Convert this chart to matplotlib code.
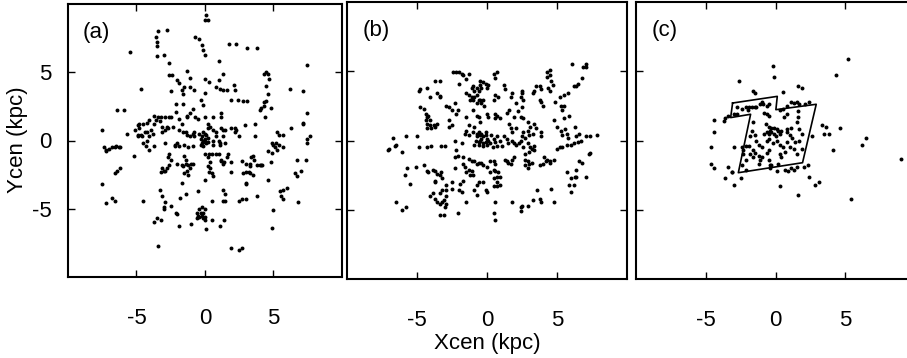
import numpy as np
import matplotlib
matplotlib.use("Agg")
import matplotlib.pyplot as plt

plt.rcParams['font.family'] = ['Liberation Sans', 'DejaVu Sans']
plt.rcParams['axes.unicode_minus'] = False

# ---------------- data (kpc) ----------------
panel_a_points = [
    (0.1, 9.2), (0.0, 8.8), (0.2, 8.8), (-3.4, 8.0), (-2.8, 8.1), (-3.6, 7.6), (-3.5, 7.2),
    (-3.5, 6.9), (-3.5, 6.2), (-3.0, 6.3), (-0.7, 7.6), (-0.4, 7.4), (-0.2, 7.0), (-0.1, 6.6),
    (0.0, 6.3), (1.8, 7.1), (2.3, 7.1), (3.1, 6.8), (3.8, 6.8), (-5.5, 6.5), (-2.6, 5.7),
    (1.0, 5.8), (7.5, 5.5), (-1.3, 5.1), (1.3, 4.9), (-2.6, 4.8), (-2.4, 4.8), (4.3, 4.9),
    (4.5, 5.0), (4.6, 4.9), (-1.1, 4.6), (0.0, 4.5), (0.3, 4.3), (1.0, 4.4), (4.7, 4.5),
    (-2.0, 4.4), (-1.9, 4.2), (2.1, 4.1), (-4.7, 3.8), (-1.5, 3.9), (-1.1, 3.9), (-0.8, 3.7),
    (0.8, 3.9), (1.1, 3.8), (1.3, 3.7), (1.6, 3.7), (2.2, 3.7), (6.2, 3.8), (7.2, 3.6),
    (4.5, 4.0), (-2.5, 3.6), (-1.7, 3.7), (-1.6, 3.4), (0.0, 3.5), (4.6, 3.4), (4.5, 2.9),
    (4.3, 2.8), (1.9, 3.0), (2.4, 3.0), (2.8, 2.9), (3.1, 2.9), (-0.3, 3.0), (-2.1, 2.7),
    (-1.6, 2.7), (-0.1, 2.6), (4.0, 2.2), (4.1, 2.4), (4.3, 2.5), (4.8, 2.4), (-6.4, 2.2),
    (-5.9, 2.2), (-0.9, 2.3), (-1.1, 2.0), (-1.3, 1.8), (-1.3, 1.7), (1.2, 2.0), (1.2, 1.7),
    (-2.1, 2.1), (-3.7, 1.8), (-3.6, 1.5), (-3.4, 1.7), (-3.2, 1.7), (-2.9, 1.7), (-2.6, 1.7),
    (-2.5, 1.7), (-1.9, 1.6), (-1.7, 1.2), (-0.7, 1.7), (-0.5, 1.6), (0.0, 1.7), (0.6, 1.7),
    (4.4, 1.7), (7.5, 2.0), (7.2, 1.3), (7.2, 1.2), (-4.1, 1.5), (-4.2, 1.3), (-4.5, 1.2),
    (-4.8, 1.2), (-4.9, 1.1), (-4.8, 0.9), (-3.7, 1.2), (-3.3, 1.4), (-3.1, 1.0), (-2.8, 1.0),
    (-2.7, 0.9), (-2.3, 1.0), (-7.5, 0.8), (-5.1, 0.8), (-5.7, 0.5), (0.2, 1.2), (0.2, 0.9),
    (0.4, 1.0), (0.6, 0.8), (1.2, 0.9), (1.3, 0.8), (1.5, 0.8), (1.9, 0.9), (2.2, 0.9),
    (2.3, 0.8), (2.2, 0.6), (2.9, 1.1), (3.7, 1.2), (6.3, 0.9), (-4.7, 0.4), (-4.6, 0.3),
    (-4.9, 0.3), (-4.4, 0.6), (-4.2, 0.6), (-3.9, 0.8), (-3.8, 0.5), (-4.1, 0.3), (-3.1, 0.6),
    (-2.9, 0.8), (-1.9, 0.8), (-1.6, 0.6), (-1.4, 0.6), (-1.3, 0.4), (-0.9, 0.5), (-0.8, 0.6),
    (-1.1, 0.3), (-0.8, 0.3), (-0.4, 0.5), (-0.2, 0.3), (0.1, 0.4), (-0.1, 0.6), (0.0, 0.5),
    (0.2, 0.2), (0.8, 0.6), (0.8, 0.3), (0.6, 0.0), (1.3, 0.3), (1.1, -0.2), (2.5, 0.3),
    (3.7, 0.3), (5.3, 0.6), (5.4, 0.4), (5.7, 0.4), (7.7, 0.3), (7.5, 0.1), (7.5, -0.2),
    (-7.4, -0.5), (-7.2, -0.7), (-7.2, -0.8), (-7.0, -0.6), (-6.8, -0.5), (-6.6, -0.5),
    (-6.5, -0.4), (-6.3, -0.5), (-6.2, -0.5), (-4.9, 0.4), (-4.5, -0.2), (-4.2, 0.0),
    (-4.3, -0.4), (-4.1, -0.7), (-3.7, -0.4), (-2.9, -0.2), (-2.2, -0.3), (-2.0, -0.2),
    (-1.9, -0.4), (-2.2, -0.4), (-1.5, -0.3), (-1.2, -0.5), (-0.9, -0.4), (-0.3, 0.1),
    (-0.1, 0.0), (0.0, -0.1), (0.1, -0.2), (-0.2, -0.2), (-0.1, -0.4), (0.0, 0.1), (0.2, -0.1),
    (-0.3, -0.3), (0.6, -0.3), (1.0, 0.0), (1.1, -0.3), (1.5, -0.2), (4.9, -0.2), (5.0, -0.3),
    (5.2, -0.2), (5.4, -0.3), (5.1, -0.5), (4.9, -0.9), (4.6, -0.8), (5.3, -0.7), (5.7, -0.5),
    (0.0, -1.0), (0.3, -1.0), (0.5, -1.0), (0.8, -1.0), (1.0, -1.0), (0.2, -1.2), (-2.6, -1.0),
    (-2.7, -1.2), (-2.5, -1.4), (-2.6, -1.8), (-2.8, -2.0), (-3.0, -2.2), (-2.9, -2.2),
    (-3.1, -2.0), (-3.2, -2.3), (-1.5, -1.1), (-1.4, -1.4), (-1.4, -1.7), (-1.2, -1.8),
    (-1.0, -1.7), (-1.1, -2.0), (-1.3, -2.2), (-1.5, -2.4), (-1.2, -2.5), (-1.6, -1.9),
    (-0.9, -1.7), (-2.0, -1.7), (-1.7, -1.8), (-5.2, -1.1), (0.4, -1.6), (0.2, -1.9),
    (0.4, -2.0), (0.5, -2.4), (0.6, -2.6), (0.3, -2.3), (1.2, -1.5), (1.3, -1.7), (1.2, -1.4),
    (1.4, -1.6), (1.7, -1.0), (1.6, -1.2), (1.9, -1.6), (1.9, -2.3), (2.7, -1.5), (3.0, -1.7),
    (3.3, -1.7), (3.5, -1.1), (3.4, -1.2), (3.6, -1.4), (3.8, -1.8), (4.0, -1.8), (4.1, -1.8),
    (4.2, -1.8), (3.3, -1.9), (2.8, -2.4), (3.0, -2.3), (3.2, -2.3), (3.3, -2.4), (3.5, -2.5),
    (3.0, -3.1), (3.0, -3.2), (4.8, -1.6), (4.6, -2.9), (6.7, -1.4), (7.4, -1.4), (6.6, -2.4),
    (7.0, -2.2), (6.7, -2.6), (-6.6, -2.4), (-6.4, -2.2), (-6.2, -2.0), (-7.5, -3.2),
    (0.0, -2.9), (-1.7, -3.1), (-3.3, -3.6), (-3.1, -4.1), (-2.9, -4.5), (-1.4, -3.9),
    (-0.5, -3.7), (1.3, -3.6), (1.5, -3.9), (1.3, -4.4), (1.5, -4.4), (2.5, -4.4), (2.7, -4.3),
    (3.0, -4.3), (3.8, -4.1), (5.5, -3.7), (5.7, -3.6), (6.0, -3.5), (5.6, -4.1), (5.7, -4.3),
    (6.8, -4.5), (-7.2, -4.6), (-6.8, -4.2), (-6.6, -4.4), (-4.5, -4.4), (-1.8, -4.2),
    (0.5, -4.4), (-3.0, -4.9), (-3.0, -5.0), (-2.5, -4.8), (-2.1, -5.3), (-2.0, -5.4),
    (-3.7, -6.0), (-3.5, -5.7), (-3.2, -5.8), (-1.9, -6.3), (-1.0, -6.1), (-0.4, -5.0),
    (-0.2, -4.9), (0.0, -5.0), (-0.6, -5.3), (-0.3, -5.3), (-0.1, -5.3), (-0.4, -5.6),
    (-0.2, -5.5), (0.0, -5.6), (-0.6, -5.7), (-0.1, -5.7), (0.0, -5.8), (-0.5, -5.5),
    (0.1, -6.5), (0.5, -5.8), (1.1, -6.3), (1.4, -5.8), (5.0, -5.1), (4.9, -6.4), (-3.4, -7.7),
    (1.9, -7.9), (2.5, -8.0), (2.7, -7.9),
]

panel_b_points = [
    (6.1, 5.5), (6.9, 5.3), (7.1, 5.5), (7.1, 5.3), (4.5, 5.1), (4.3, 4.9), (4.5, 4.7), (4.3, 4.6),
    (-2.4, 4.9), (-2.2, 4.9), (-2.0, 4.9), (-1.8, 4.8), (-1.7, 4.7), (-1.3, 4.8), (-1.5, 4.4),
    (0.5, 4.8), (0.7, 4.9), (0.6, 4.5), (6.8, 4.5), (6.5, 4.1), (6.2, 3.9), (5.8, 3.4), (6.4, 3.9),
    (4.6, 4.3), (4.7, 4.0), (4.4, 3.8), (4.5, 3.6), (-3.7, 4.3), (-3.4, 4.3), (-4.3, 3.8),
    (-4.9, 3.6), (-4.8, 3.7), (-2.0, 4.1), (-0.5, 4.3), (-0.3, 4.2), (-0.1, 4.1), (-0.4, 3.8),
    (0.0, 3.8), (0.1, 4.0), (-0.5, 4.0), (-1.1, 3.8), (-1.0, 3.9), (-0.9, 3.6), (-0.7, 3.8),
    (-0.6, 3.6), (1.2, 4.0), (1.3, 3.7), (2.5, 3.6), (2.5, 3.4), (1.8, 3.4), (1.7, 3.1),
    (3.5, 3.9), (3.4, 3.6), (3.3, 3.4), (3.8, 3.9), (3.9, 3.7), (5.5, 3.3), (5.2, 3.1), (4.9, 2.8),
    (-3.6, 3.4), (-3.4, 3.2), (-3.4, 3.1), (-4.1, 3.1), (-1.5, 3.4), (-1.3, 3.3), (-1.1, 3.1),
    (-1.2, 2.9), (-1.0, 2.9), (-0.9, 3.1), (-0.7, 3.3), (-0.6, 2.9), (-0.5, 2.9), (-0.3, 2.9),
    (-0.4, 2.7), (-0.2, 2.5), (-0.7, 2.7), (0.8, 3.1), (0.6, 3.3), (0.5, 2.9), (2.4, 3.1),
    (2.6, 2.9), (2.5, 2.4), (2.1, 2.7), (3.8, 2.9), (3.9, 2.8), (4.0, 2.5), (5.3, 2.5), (5.5, 2.5),
    (5.4, 2.2), (5.9, 1.8), (5.5, 1.6), (4.8, 1.5), (-4.8, 2.4), (-4.5, 2.3), (-2.9, 2.5),
    (-2.7, 2.4), (-2.5, 2.2), (-2.3, 2.7), (-2.1, 2.2), (-2.2, 1.9), (-4.3, 1.7), (-4.1, 1.5),
    (-4.4, 1.5), (-4.3, 1.2), (-4.1, 1.1), (-3.8, 1.1), (-3.7, 1.0), (-4.0, 0.9), (-4.3, 0.9),
    (-3.6, 1.2), (-4.2, 1.8), (-4.4, 1.9), (-1.0, 2.2), (-0.7, 1.8), (-0.6, 1.7), (0.0, 1.9),
    (0.1, 1.7), (0.6, 1.9), (0.7, 1.8), (0.9, 1.6), (0.6, 1.6), (1.4, 2.0), (1.6, 2.2), (1.9, 1.7),
    (2.2, 2.1), (2.4, 1.7), (2.6, 1.6), (-2.7, 1.5), (-2.5, 1.1), (-2.7, 1.0), (-1.5, 1.7),
    (-1.3, 1.1), (-1.5, 0.7), (-1.3, 0.4), (-1.6, 0.5), (-0.9, 1.0), (-0.5, 1.3), (-1.0, 0.6),
    (1.6, 1.2), (1.7, 0.9), (1.8, 0.6), (2.1, 0.9), (2.9, 1.3), (3.1, 1.0), (3.4, 1.2), (3.5, 0.9),
    (3.3, 0.5), (3.0, 0.4), (2.9, 0.7), (2.6, 0.6), (2.5, 0.3), (3.9, 0.6), (3.9, 0.3), (5.0, 1.0),
    (5.3, 0.7), (5.6, 0.8), (5.7, 0.5), (5.4, 0.4), (5.8, 0.2), (6.3, 1.0), (6.4, 0.3), (6.6, 0.5),
    (6.7, 0.0), (6.5, -0.1), (6.2, -0.2), (6.0, -0.3), (5.7, -0.3), (5.4, -0.5), (5.2, -0.5),
    (5.0, -0.6), (7.1, 0.3), (7.4, 0.3), (7.9, 0.4), (7.4, -0.9), (7.3, -1.0), (-6.7, 0.2),
    (-6.5, -0.3), (-6.6, -0.4), (-7.0, -0.6), (-7.1, -0.7), (-6.1, -0.8), (-5.8, 0.3), (-5.0, 0.3),
    (-4.9, -0.5), (-4.3, -0.5), (-4.0, -0.4), (-3.3, -0.4), (-3.0, -0.4), (-2.3, 0.0), (-1.8, -0.2),
    (-2.2, -0.7), (-2.1, -1.1), (-2.3, -1.2), (-1.7, -1.2), (-0.7, 0.5), (-0.6, 0.6), (-0.5, 0.4),
    (-0.4, 0.5), (-0.3, 0.3), (-0.1, 0.4), (0.0, 0.1), (-0.8, 0.0), (-0.6, -0.1), (-0.5, 0.0),
    (-0.3, -0.2), (-0.1, -0.1), (0.1, 0.0), (-0.9, -0.3), (-0.6, -0.3), (-0.3, -0.4), (0.0, -0.3),
    (0.2, -0.2), (-0.7, 0.3), (-0.4, 0.1), (-0.1, 0.6), (0.3, 0.4), (0.5, 0.1), (0.7, 0.3),
    (0.6, -0.1), (0.9, 0.0), (1.2, 0.3), (1.4, 0.1), (1.5, -0.2), (1.1, -0.4), (0.7, -0.4),
    (0.4, -0.5), (1.8, 0.0), (1.9, -0.2), (2.1, -0.3), (2.3, -0.2), (2.4, 0.0), (2.7, 0.2),
    (2.9, -0.2), (3.1, -0.5), (3.2, -0.6), (3.4, -0.4), (3.4, -0.7), (3.0, -0.8), (2.7, -1.0),
    (2.6, -0.5), (-1.3, -1.3), (-1.1, -1.5), (-0.9, -1.5), (-0.7, -1.7), (-0.6, -1.6), (-0.4, -1.6),
    (-0.3, -1.8), (0.0, -1.9), (0.2, -1.5), (0.5, -1.5), (0.6, -1.7), (1.3, -1.4), (1.4, -1.5),
    (1.5, -1.6), (1.7, -1.7), (1.8, -1.4), (1.9, -1.2), (2.7, -1.4), (2.9, -1.5), (3.0, -1.7),
    (2.7, -1.8), (2.9, -2.0), (3.2, -1.6), (3.8, -1.8), (4.0, -1.7), (4.1, -1.2), (4.3, -1.4),
    (4.5, -1.5), (4.5, -1.6), (4.2, -1.5), (4.8, -1.4), (6.6, -1.5), (6.8, -1.6), (-5.1, -1.9),
    (-4.5, -1.8), (-4.3, -2.2), (-4.2, -2.3), (-3.9, -2.1), (-3.7, -2.2), (-3.6, -2.4), (-3.4, -2.5),
    (-3.7, -2.9), (-3.7, -3.0), (-3.3, -2.3), (-3.2, -2.7), (-5.7, -2.0), (-5.9, -2.5), (-5.5, -3.1),
    (-2.3, -2.0), (-1.7, -1.7), (-1.6, -1.9), (-1.3, -2.1), (-1.1, -2.2), (-1.5, -2.3), (-1.2, -2.5),
    (-1.7, -2.9), (-1.9, -3.1), (-1.0, -2.5), (0.2, -2.3), (0.5, -2.1), (0.6, -2.2), (0.8, -2.3),
    (0.9, -2.6), (0.7, -2.6), (0.5, -2.7), (0.7, -3.0), (0.9, -3.2), (0.7, -3.3), (0.5, -3.3),
    (-0.3, -3.0), (-0.6, -3.0), (-0.7, -3.2), (-0.1, -3.6), (0.0, -3.7), (-2.9, -3.2), (-2.9, -3.6),
    (-3.2, -3.6), (-3.4, -3.8), (-2.9, -4.0), (-3.1, -4.3), (-3.2, -4.4), (-2.9, -4.6), (-3.4, -4.6),
    (-3.6, -4.4), (-3.0, -4.8), (-3.9, -3.8), (-4.1, -4.0), (-3.7, -4.2), (-2.5, -3.0), (-2.5, -3.5),
    (-2.0, -3.6), (-1.8, -3.7), (-1.5, -4.4), (-2.1, -5.2), (-3.4, -5.4), (-3.1, -5.4), (-6.5, -4.4),
    (-6.1, -5.0), (-5.8, -4.8), (-0.9, -3.6), (-0.7, -3.9), (0.6, -4.4), (0.5, -5.2), (0.6, -5.7),
    (1.8, -4.4), (2.4, -4.8), (2.5, -4.7), (2.4, -5.1), (2.9, -4.7), (3.3, -4.3), (3.6, -3.6),
    (3.8, -4.2), (3.9, -4.4), (4.8, -4.4), (4.6, -3.5), (5.7, -2.3), (6.0, -2.7), (6.3, -2.6),
    (6.4, -2.6), (5.9, -3.2), (6.0, -3.7), (7.1, -2.6), (6.4, -2.1), (6.2, -3.2),
]

panel_c_points = [
    (5.2, 5.9), (-0.2, 5.4), (-0.1, 4.6), (4.3, 4.7), (-2.6, 4.3), (-1.6, 3.6), (-1.5, 3.4),
    (0.5, 3.5), (1.6, 3.9), (1.9, 3.8), (-4.4, 1.5), (-4.4, 0.6), (-4.6, -0.5), (-4.6, -1.7),
    (-4.4, -2.0), (-3.7, 1.4), (-3.6, 1.6), (-3.4, 1.8), (3.3, 1.1), (3.6, 1.0), (3.5, 0.5),
    (3.8, 0.5), (4.6, 0.9), (4.1, -0.7), (6.2, -0.3), (6.5, 0.2), (9.0, -1.3), (5.4, -4.2),
    (1.6, -3.9), (0.3, -3.3), (-3.0, -3.2), (-3.6, -2.7), (-2.5, -2.7), (-3.1, -2.3), (-3.4, -1.9),
    (-3.1, -2.3), (-3.0, -0.5), (2.4, -2.6), (2.8, -3.2), (3.1, -3.0), (2.3, -1.8), (2.0, -1.9),
    (2.6, 0.3), (-2.8, 2.4), (-2.4, 2.3), (-2.1, 2.4), (-2.0, 2.2), (-1.7, 2.4), (-1.5, 2.4),
    (-1.4, 2.4), (-1.1, 2.6), (-1.0, 2.8), (-0.9, 2.6), (-0.6, 2.5), (-0.5, 2.6), (-1.9, 2.4),
    (-3.0, 1.9), (-2.8, 1.9), (-0.8, 2.0), (-0.6, 1.9), (-0.5, 1.8), (0.3, 2.2), (0.5, 2.3),
    (0.8, 2.5), (1.1, 2.8), (1.3, 2.7), (1.5, 2.8), (1.7, 2.6), (2.1, 2.6), (2.4, 2.8), (0.6, 1.7),
    (0.8, 1.9), (1.6, 2.1), (1.6, 1.7), (1.5, 1.3), (-1.6, 1.3), (-1.7, 0.7), (-1.8, 0.3),
    (-0.7, 1.2), (-0.5, 1.0), (-0.3, 0.9), (-0.1, 0.9), (0.1, 0.8), (0.2, 0.7), (-0.4, 0.7),
    (-0.6, 0.6), (-0.8, 0.5), (-0.5, 0.5), (-0.3, 0.6), (-0.1, 0.5), (0.0, 0.3), (0.3, 0.5),
    (0.4, 0.7), (0.8, 0.8), (0.8, 0.6), (1.1, 0.9), (1.0, 0.4), (1.2, 0.2), (1.7, 0.8), (1.9, 0.5),
    (1.7, 0.0), (1.4, -0.1), (0.8, -0.1), (-1.5, 0.4), (-1.4, 0.0), (-1.2, -0.3), (-1.0, -0.5),
    (-0.6, 0.0), (-0.5, 0.1), (-0.2, -0.2), (0.1, 0.0), (0.3, -0.3), (0.5, -0.5), (0.7, -0.8),
    (1.0, -0.5), (1.3, -0.6), (1.5, -1.0), (1.9, -0.6), (-2.4, -0.5), (-2.3, -0.7), (-2.1, -0.4),
    (-1.9, -0.4), (-1.6, -0.7), (-1.5, -0.9), (-2.3, -1.0), (-2.1, -1.4), (-1.8, -1.0), (-1.6, -1.2),
    (-1.2, -1.1), (-1.0, -1.2), (-0.6, -0.9), (-0.5, -0.7), (0.3, -1.0), (0.4, -1.2), (-1.1, -1.4),
    (-1.2, -1.7), (-0.5, -1.4), (-0.3, -1.8), (0.2, -1.7), (-2.4, -1.8), (-2.1, -2.1), (-0.4, -2.0),
    (0.1, -2.2), (0.7, -2.1), (0.9, -2.2), (1.1, -2.0), (1.3, -2.1), (1.5, -1.9), (-0.4, -1.8),
]

field_x = [-3.08, 0.12, 0.02, 2.91, 1.93, -2.67, -1.79, -3.22, -3.08]
field_y = [2.70, 3.18, 2.22, 2.61, -1.60, -2.32, 1.89, 1.65, 2.70]

panel_labels = ['(a)', '(b)', '(c)']
tick_values = [-5, 0, 5]
tick_labels = ['-5', '0', '5']
x_label = 'Xcen (kpc)'
y_label = 'Ycen (kpc)'

# ---------------- figure ----------------
W, H = 907, 358
fig = plt.figure(figsize=(W / 100, H / 100), dpi=100)

def frac(l, t, r, b):
    return [l / W, 1 - b / H, (r - l) / W, (b - t) / H]

positions = [frac(68, 4, 341.7, 277), frac(347.3, 1.7, 626.7, 279.3), frac(636, 1.7, 915.2, 279.3)]
datasets = [panel_a_points, panel_b_points, panel_c_points]
FS = 16

for i, (pos, pts, lab) in enumerate(zip(positions, datasets, panel_labels)):
    ax = fig.add_axes(pos)
    arr = np.array(pts)
    ax.scatter(arr[:, 0], arr[:, 1], s=8, c='black', linewidths=0)
    if i == 2:
        ax.plot(field_x, field_y, color='black', lw=1.2)
    ax.set_xlim(-10, 10)
    ax.set_ylim(-10, 10)
    ax.set_xticks(tick_values)
    ax.set_xticklabels(tick_labels)
    ax.set_yticks(tick_values)
    if i == 0:
        ax.set_yticklabels(tick_labels)
    else:
        ax.set_yticklabels([])
    ax.tick_params(direction='in', top=True, right=True, length=5, width=1,
                   labelsize=FS, colors='black')
    ax.tick_params(axis='x', pad=22)
    ax.tick_params(axis='y', pad=12)
    for sp in ax.spines.values():
        sp.set_linewidth(1.5)
    ax.text(0.055, 0.895, lab, transform=ax.transAxes, fontsize=FS, ha='left', va='center')

fig.text(487 / W, 1 - 343 / H, x_label, fontsize=FS, ha='center', va='center')
fig.text(18 / W, 1 - 140 / H, y_label, fontsize=FS, ha='center', va='center', rotation=90)

fig.savefig('out.png', dpi=100)
